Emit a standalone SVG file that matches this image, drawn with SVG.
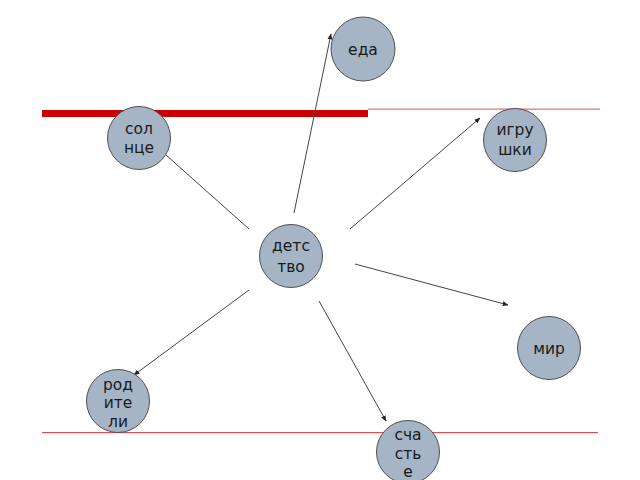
<svg xmlns="http://www.w3.org/2000/svg" width="640" height="480" viewBox="0 0 640 480">
<defs>
<style>
.node circle{fill:#a5b5c5;stroke:#505050;stroke-width:1}
.node text{font-family:"DejaVu Sans",Verdana,sans-serif;font-size:15.5px;fill:#1a1a1a;text-anchor:middle}
.conn line{stroke:#444;stroke-width:1}
</style>
<marker id="ah" viewBox="0 0 10 10" refX="9" refY="5" markerWidth="6" markerHeight="6" orient="auto">
<path d="M0,1 L10,5 L0,9 z" fill="#222"/>
</marker>
</defs>
<rect width="640" height="480" fill="#fff"/>
<g id="lines">
<rect x="42" y="110" width="326" height="7" fill="#cc0000"/>
<rect x="368" y="108.5" width="232" height="1.2" fill="#e07070"/>
<rect x="42" y="432" width="556" height="1.2" fill="#d85050"/>
</g>
<g id="connectors" class="conn">
<line x1="166" y1="155" x2="249" y2="229"/>
<line x1="294" y1="213" x2="331" y2="34" marker-end="url(#ah)"/>
<line x1="350" y1="229" x2="480" y2="118" marker-end="url(#ah)"/>
<line x1="355" y1="264" x2="508" y2="305" marker-end="url(#ah)"/>
<line x1="319" y1="301" x2="386" y2="421" marker-end="url(#ah)"/>
<line x1="249" y1="290" x2="134" y2="375" marker-end="url(#ah)"/>
</g>
<g id="detstvo" class="node"><circle cx="291" cy="256" r="31.5"/><text x="291" y="251">детс</text><text x="291" y="272">тво</text></g>
<g id="eda" class="node"><circle cx="363" cy="49" r="32"/><text x="363" y="55">еда</text></g>
<g id="solntse" class="node"><circle cx="139" cy="138" r="31.5"/><text x="139" y="134">сол</text><text x="139" y="153">нце</text></g>
<g id="igrushki" class="node"><circle cx="515" cy="140" r="31.5"/><text x="515" y="135">игру</text><text x="515" y="155">шки</text></g>
<g id="mir" class="node"><circle cx="549" cy="348" r="31.5"/><text x="549" y="354">мир</text></g>
<g id="roditeli" class="node"><circle cx="118" cy="401" r="31.5"/><text x="118" y="390">род</text><text x="118" y="408">ите</text><text x="118" y="427">ли</text></g>
<g id="schastye" class="node"><circle cx="408" cy="452" r="31.5"/><text x="408" y="440">сча</text><text x="408" y="459">сть</text><text x="408" y="477">е</text></g>
</svg>
